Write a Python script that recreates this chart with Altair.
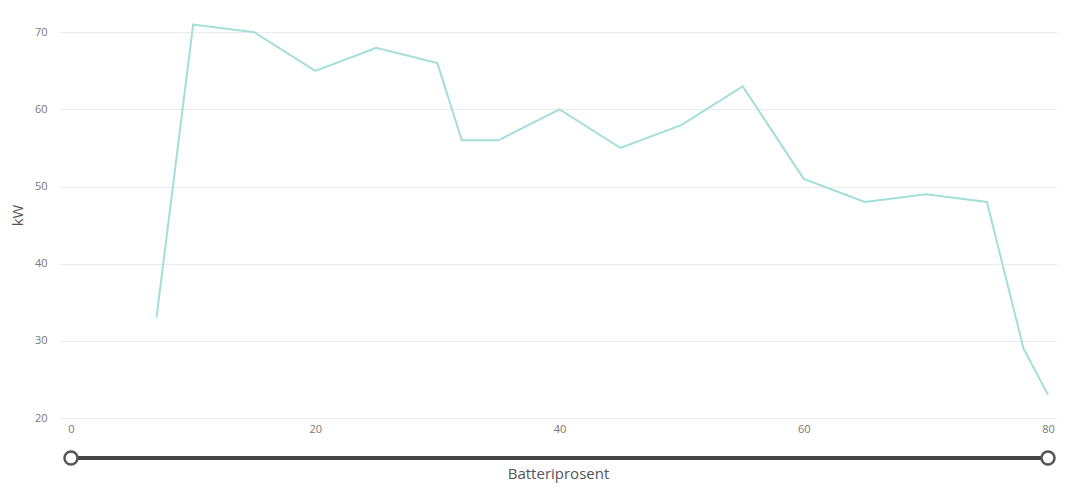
import altair as alt
import pandas as pd

battery_pct = [7, 10, 15, 20, 25, 30, 32, 35, 40, 45, 50, 55, 60, 65, 70, 75, 78, 80]
power_kw = [33, 71, 70, 65, 68, 66, 56, 56, 60, 55, 58, 63, 51, 48, 49, 48, 29, 23]
x_ticks = [0, 20, 40, 60, 80]
y_ticks = [20, 30, 40, 50, 60, 70]
slider_range = [0, 80]

df = pd.DataFrame({"x": battery_pct, "y": power_kw})
slider_df = pd.DataFrame({"x": [slider_range[0]], "x2": [slider_range[1]]})
knob_df = pd.DataFrame({"x": slider_range})

FONT = "Open Sans"
xscale = alt.Scale(domain=[-0.901, 80.737], nice=False, zero=False)
yscale = alt.Scale(domain=[20, 72.5], nice=False, zero=False)

line = alt.Chart(df).mark_line(color="#A3DFD8", strokeWidth=2).encode(
    x=alt.X("x:Q", scale=xscale,
            axis=alt.Axis(title="Batteriprosent", values=x_ticks, grid=False, domain=False,
                          ticks=False, labelPadding=5, labelBaseline="top",
                          titleY=55, titleBaseline="middle", titleX=498)),
    y=alt.Y("y:Q", scale=yscale,
            axis=alt.Axis(title="kW", values=y_ticks, grid=True, domain=False, ticks=False,
                          labelPadding=13, titleX=-43, titleY=202, titleAlign="center",
                          titleBaseline="middle")),
)

slider = alt.Chart(slider_df).mark_rule(color="#444444", strokeWidth=4).encode(
    x=alt.X("x:Q", scale=xscale), x2="x2:Q", y=alt.value(445)
)

knobs = alt.Chart(knob_df).mark_point(
    shape="circle", filled=True, fill="white", stroke="#555555", strokeWidth=2.5,
    size=170, opacity=1
).encode(x=alt.X("x:Q", scale=xscale), y=alt.value(445))

chart = alt.layer(line, slider, knobs).properties(
    width=997, height=405,
    autosize=alt.AutoSizeParams(type="none"),
    padding={"left": 52, "top": 5, "right": 0, "bottom": 65},
).configure_view(stroke=None).configure_axis(
    labelFont=FONT, titleFont=FONT, labelColor="#777777", labelFontSize=11,
    titleColor="#555555", titleFontSize=15, titleFontWeight="normal",
    gridColor="#EBEBEB", gridWidth=1,
)

chart.save("out.html", embed_options={"renderer": "svg", "actions": False})
